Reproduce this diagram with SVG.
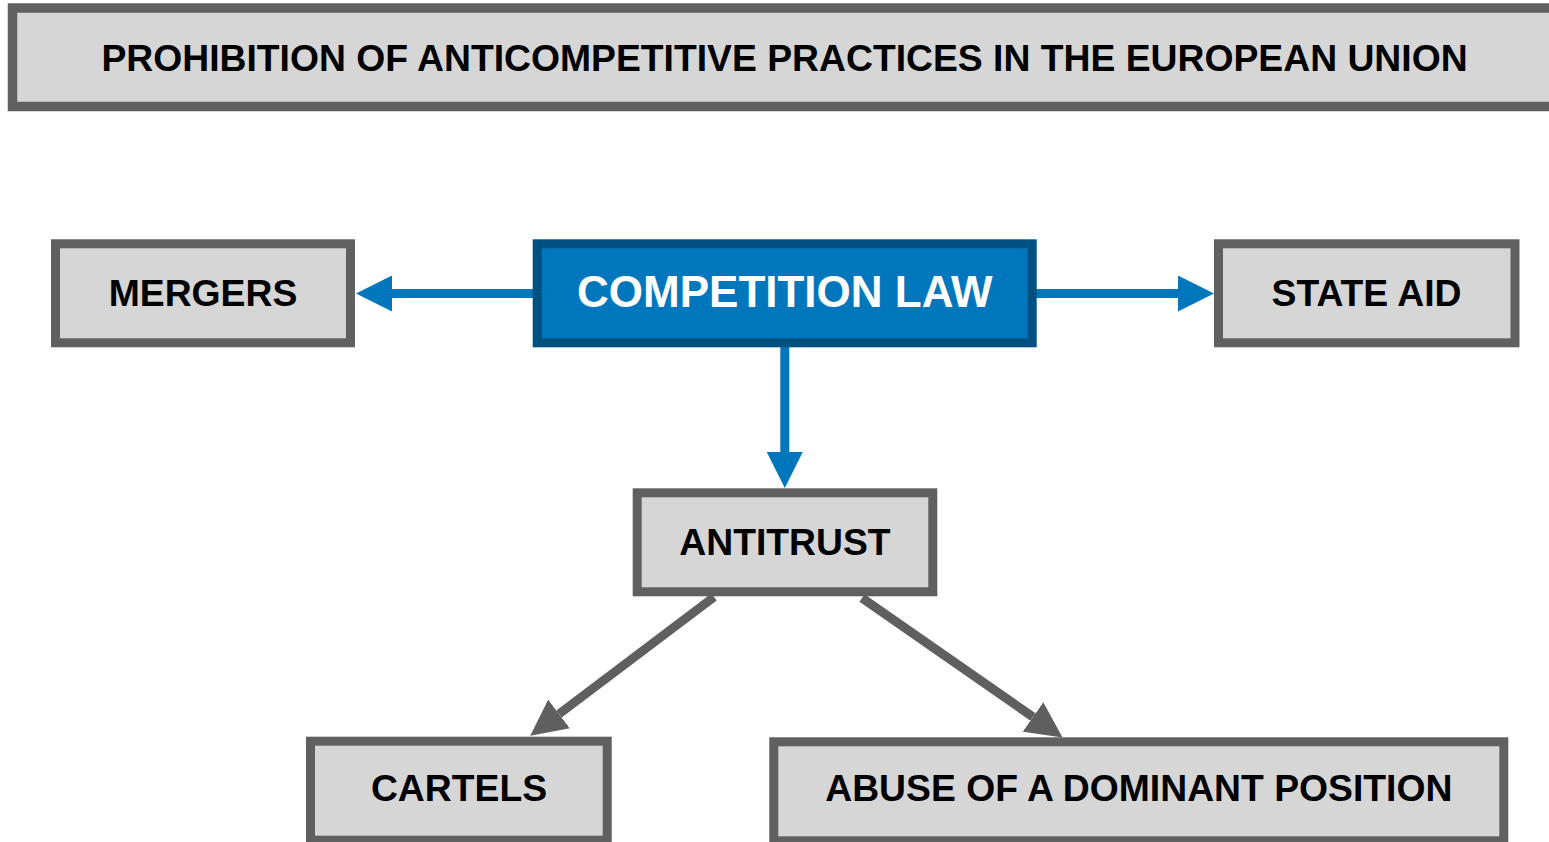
<svg xmlns="http://www.w3.org/2000/svg" width="1549" height="842" viewBox="0 0 1549 842">
  <defs>
    <style>
      .box { fill: #d6d6d6; stroke: #606060; stroke-width: 9; }
      .main { fill: #0077bd; stroke: #00517f; stroke-width: 9; }
      .lbl { font-family: "Liberation Sans", Arial, sans-serif; font-weight: bold; font-size: 37.3px; fill: #000; text-anchor: middle; }
      .lbl-main { font-family: "Liberation Sans", Arial, sans-serif; font-weight: bold; font-size: 44px; fill: #fff; text-anchor: middle; }
      .blue { stroke: #0077bd; stroke-width: 9; fill: none; marker-end: url(#headBlue); }
      .gray { stroke: #5f5f5f; stroke-width: 9; fill: none; marker-end: url(#headGray); }
    </style>
    <marker id="headBlue" markerUnits="userSpaceOnUse" markerWidth="36" markerHeight="36" refX="0" refY="18" orient="auto" viewBox="0 0 36 36">
      <path d="M0,0 L36,18 L0,36 Z" fill="#0077bd"/>
    </marker>
    <marker id="headGray" markerUnits="userSpaceOnUse" markerWidth="36" markerHeight="36" refX="0" refY="18" orient="auto" viewBox="0 0 36 36">
      <path d="M0,0 L36,18 L0,36 Z" fill="#5f5f5f"/>
    </marker>
  </defs>
  <rect width="1549" height="842" fill="#fff"/>

  <g id="title">
    <rect class="box" x="12.5" y="8" width="1550" height="98.5" style="stroke-width:9.5"/>
    <text class="lbl" x="784.5" y="70.5">PROHIBITION OF ANTICOMPETITIVE PRACTICES IN THE EUROPEAN UNION</text>
  </g>

  <g id="connectors">
    <line class="blue" x1="537" y1="293.5" x2="392" y2="293.5"/>
    <line class="blue" x1="1032" y1="293.5" x2="1178" y2="293.5"/>
    <line class="blue" x1="784.8" y1="347" x2="784.8" y2="452"/>
    <line class="gray" x1="714" y1="597" x2="559" y2="714"/>
    <line class="gray" x1="862" y1="598" x2="1033" y2="717"/>
  </g>

  <g id="mergers">
    <rect class="box" x="55.5" y="243.8" width="295" height="99"/>
    <text class="lbl" x="203" y="305.7">MERGERS</text>
  </g>

  <g id="competition-law">
    <rect class="main" x="537.2" y="243.8" width="495" height="99"/>
    <text class="lbl-main" x="784.8" y="306.7">COMPETITION LAW</text>
  </g>

  <g id="state-aid">
    <rect class="box" x="1218.5" y="243.8" width="296.5" height="99"/>
    <text class="lbl" x="1366.5" y="305.5">STATE AID</text>
  </g>

  <g id="antitrust">
    <rect class="box" x="637.2" y="492.8" width="295.6" height="99"/>
    <text class="lbl" x="785" y="555">ANTITRUST</text>
  </g>

  <g id="cartels">
    <rect class="box" x="310.5" y="741.2" width="296.7" height="99"/>
    <text class="lbl" x="459" y="801">CARTELS</text>
  </g>

  <g id="abuse">
    <rect class="box" x="773.8" y="741.8" width="730" height="99"/>
    <text class="lbl" x="1138.8" y="801">ABUSE OF A DOMINANT POSITION</text>
  </g>
</svg>
